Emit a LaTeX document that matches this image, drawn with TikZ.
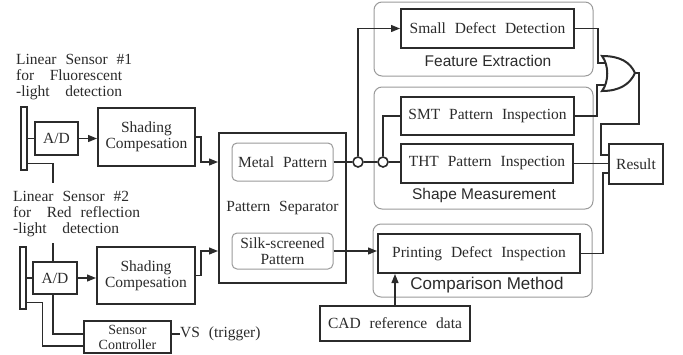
\documentclass[tikz,border=0pt]{standalone}
\usepackage{fontspec}
\setmainfont{Liberation Serif}[WordSpace=2.3]
\newfontfamily\grpfont{Liberation Sans}
\usepackage{xcolor}
\usepackage{tikz}
\usetikzlibrary{arrows.meta, positioning}

\definecolor{ink}{HTML}{2B2B2B}
\definecolor{grp}{HTML}{9A9A9A}

\tikzset{
  blk/.style={draw=ink, line width=2pt, fill=white, align=center, inner sep=0pt, text=ink},
  sub/.style={draw=grp, line width=1pt, fill=white, rounded corners=5pt, align=center, inner sep=0pt, text=ink},
  grpbox/.style={draw=grp, line width=1pt, rounded corners=8pt, inner sep=0pt},
  grplbl/.style={font=\grpfont\fontsize{15.5}{16}\selectfont, text=ink, inner sep=0pt},
  sensorbar/.style={draw=ink, line width=1.4pt, fill=white, minimum width=6pt, inner sep=0pt},
  wire/.style={draw=ink, line width=1.2pt},
  jn/.style={circle, draw=ink, line width=1.6pt, fill=white, minimum size=10pt, inner sep=0pt},
}

\begin{document}
\begin{tikzpicture}[x=1pt, y=-1pt, font=\fontsize{15.5}{16}\selectfont, text=ink,
  >={Triangle[length=9pt,width=7pt]}]
\useasboundingbox (0,0) rectangle (683,354);

% Grupos
\node[grpbox, minimum width=219pt, minimum height=74pt] (fegrp) at (483.5,39) {};
\node[grpbox, minimum width=219pt, minimum height=122pt] (smgrp) at (483.5,148) {};
\node[grpbox, minimum width=219pt, minimum height=73pt] (cmgrp) at (482.5,260.5) {};
\node[grplbl] (felbl) at (488,61) {Feature Extraction};
\node[grplbl] (smlbl) at (484,195) {Shape Measurement};
\node[grplbl, font=\grpfont\fontsize{17}{17}\selectfont] (cmlbl) at (487,285) {Comparison Method};

% Sensores
\node[anchor=north west, align=left, inner sep=0pt] (lbl1) at (16,54.5)
  {Linear Sensor \#1\\for\quad Fluorescent\\-light\quad detection};
\node[anchor=north west, align=left, inner sep=0pt] (lbl2) at (13,191.5)
  {Linear Sensor \#2\\for\quad Red reflection\\-light\quad detection};
\node[sensorbar, minimum height=63pt] (bar1) at (24,138.5) {};
\node[sensorbar, minimum height=62pt] (bar2) at (23,278) {};
\node[blk, minimum width=43pt, minimum height=33pt] (ad1) at (56.5,138.5) {A/D};
\node[blk, minimum width=44pt, minimum height=32pt] (ad2) at (55,278) {A/D};
\node[blk, minimum width=97pt, minimum height=58pt] (sh1) at (146.5,137) {Shading\\Compesation};
\node[blk, minimum width=98pt, minimum height=57pt] (sh2) at (146,275.5) {Shading\\Compesation};
\node[blk, minimum width=87pt, minimum height=32pt, font=\fontsize{14}{15}\selectfont]
  (ctrl) at (127.5,337) {Sensor\\Controller};
\node[anchor=west, inner sep=0pt] (vs) at (180,334) {VS (trigger)};
\coordinate (clk1) at (53,183);
\coordinate (clk2) at (53,243);

% Separador
\node[blk, minimum width=127pt, minimum height=150pt] (sep) at (282.5,208) {Pattern Separator};
\node[sub, minimum width=101pt, minimum height=38pt] (metal) at (282.5,162) {Metal Pattern};
\node[sub, minimum width=101pt, minimum height=36pt] (silk) at (282.5,251) {Silk-screened\\Pattern};
\node[jn] (j1) at (358,162) {};
\node[jn] (j2) at (383,162) {};

% Inspecciones
\node[blk, minimum width=173pt, minimum height=39pt] (sdd) at (487.5,28.5) {Small Defect Detection};
\node[blk, minimum width=173pt, minimum height=38pt] (smt) at (487.5,116) {SMT Pattern Inspection};
\node[blk, minimum width=172pt, minimum height=39pt] (tht) at (487,163.5) {THT Pattern Inspection};
\node[blk, minimum width=202pt, minimum height=39pt] (pdi) at (479,253.5) {Printing Defect Inspection};
\node[blk, line width=1.4pt, minimum width=150pt, minimum height=35pt] (cad) at (395,323.5) {CAD reference data};
\node[blk, minimum width=54pt, minimum height=40pt] (res) at (636,164) {Result};
\coordinate (orin1) at (607,63);
\coordinate (orin2) at (607,85);
\coordinate (orout) at (635,73);

% Conexiones
\draw[wire] (bar1.east) -- (ad1.west);
\draw[wire, ->] (ad1.east) -- (ad1.east -| sh1.west);
\draw[wire] ([yshift=7pt]bar1.south east) -| (clk1);
\draw[wire] (clk2) -- (clk2 |- ad2.north);
\draw[wire] (bar2.east) -- (ad2.west);
\draw[wire, ->] (ad2.east) -- (ad2.east -| sh2.west);
\draw[wire] ([xshift=-2pt]ad2.south) |- ([yshift=3pt]ctrl.west);
\draw[wire] ([yshift=7pt]bar2.south east) -- ++(16,0) |- ([yshift=-9pt]ctrl.west);
\draw[wire] (ctrl.east |- vs.west) -- (vs.west);
\draw[wire, ->] (sh1.east) -- ++(5,0) |- (metal -| sep.west);
\draw[wire, ->] (sh2.east) -- ++(5,0) |- (silk -| sep.west);
\draw[wire] (metal.east) -- (j1.west);
\draw[wire] (j1.east) -- (j2.west);
\draw[wire] (j2.east) -- (j2.east -| tht.west);
\draw[wire, ->] (j1.north) |- (sdd.west);
\draw[wire] (j2.north) |- (smt.west);
\draw[wire, ->] (silk.east) -- (silk.east -| pdi.west);
\draw[wire, ->] (cad.north) -- (cad.north |- pdi.south);
\draw[wire] (sdd.east) -- ++(23,0) |- (orin1);
\draw[wire] (smt.east) -- ++(22,0) |- (orin2);
\draw[wire] (orout) -- ++(4,0) -- ++(0,51) -- ++(-38,0) |- ([yshift=9pt]res.west);
\draw[wire] (tht.east) -- (tht.east -| res.west);
\draw[wire] (pdi.east) -- ++(22,0) |- ([yshift=-9pt]res.west);

% Compuerta OR
\draw[ink, line width=2pt, fill=white] (602,56) .. controls (609,65) and (609,82) .. (602,91)
  .. controls (620,91) and (630,84) .. (orout) .. controls (630,62) and (620,56) .. (602,56) -- cycle;
\end{tikzpicture}
\end{document}
